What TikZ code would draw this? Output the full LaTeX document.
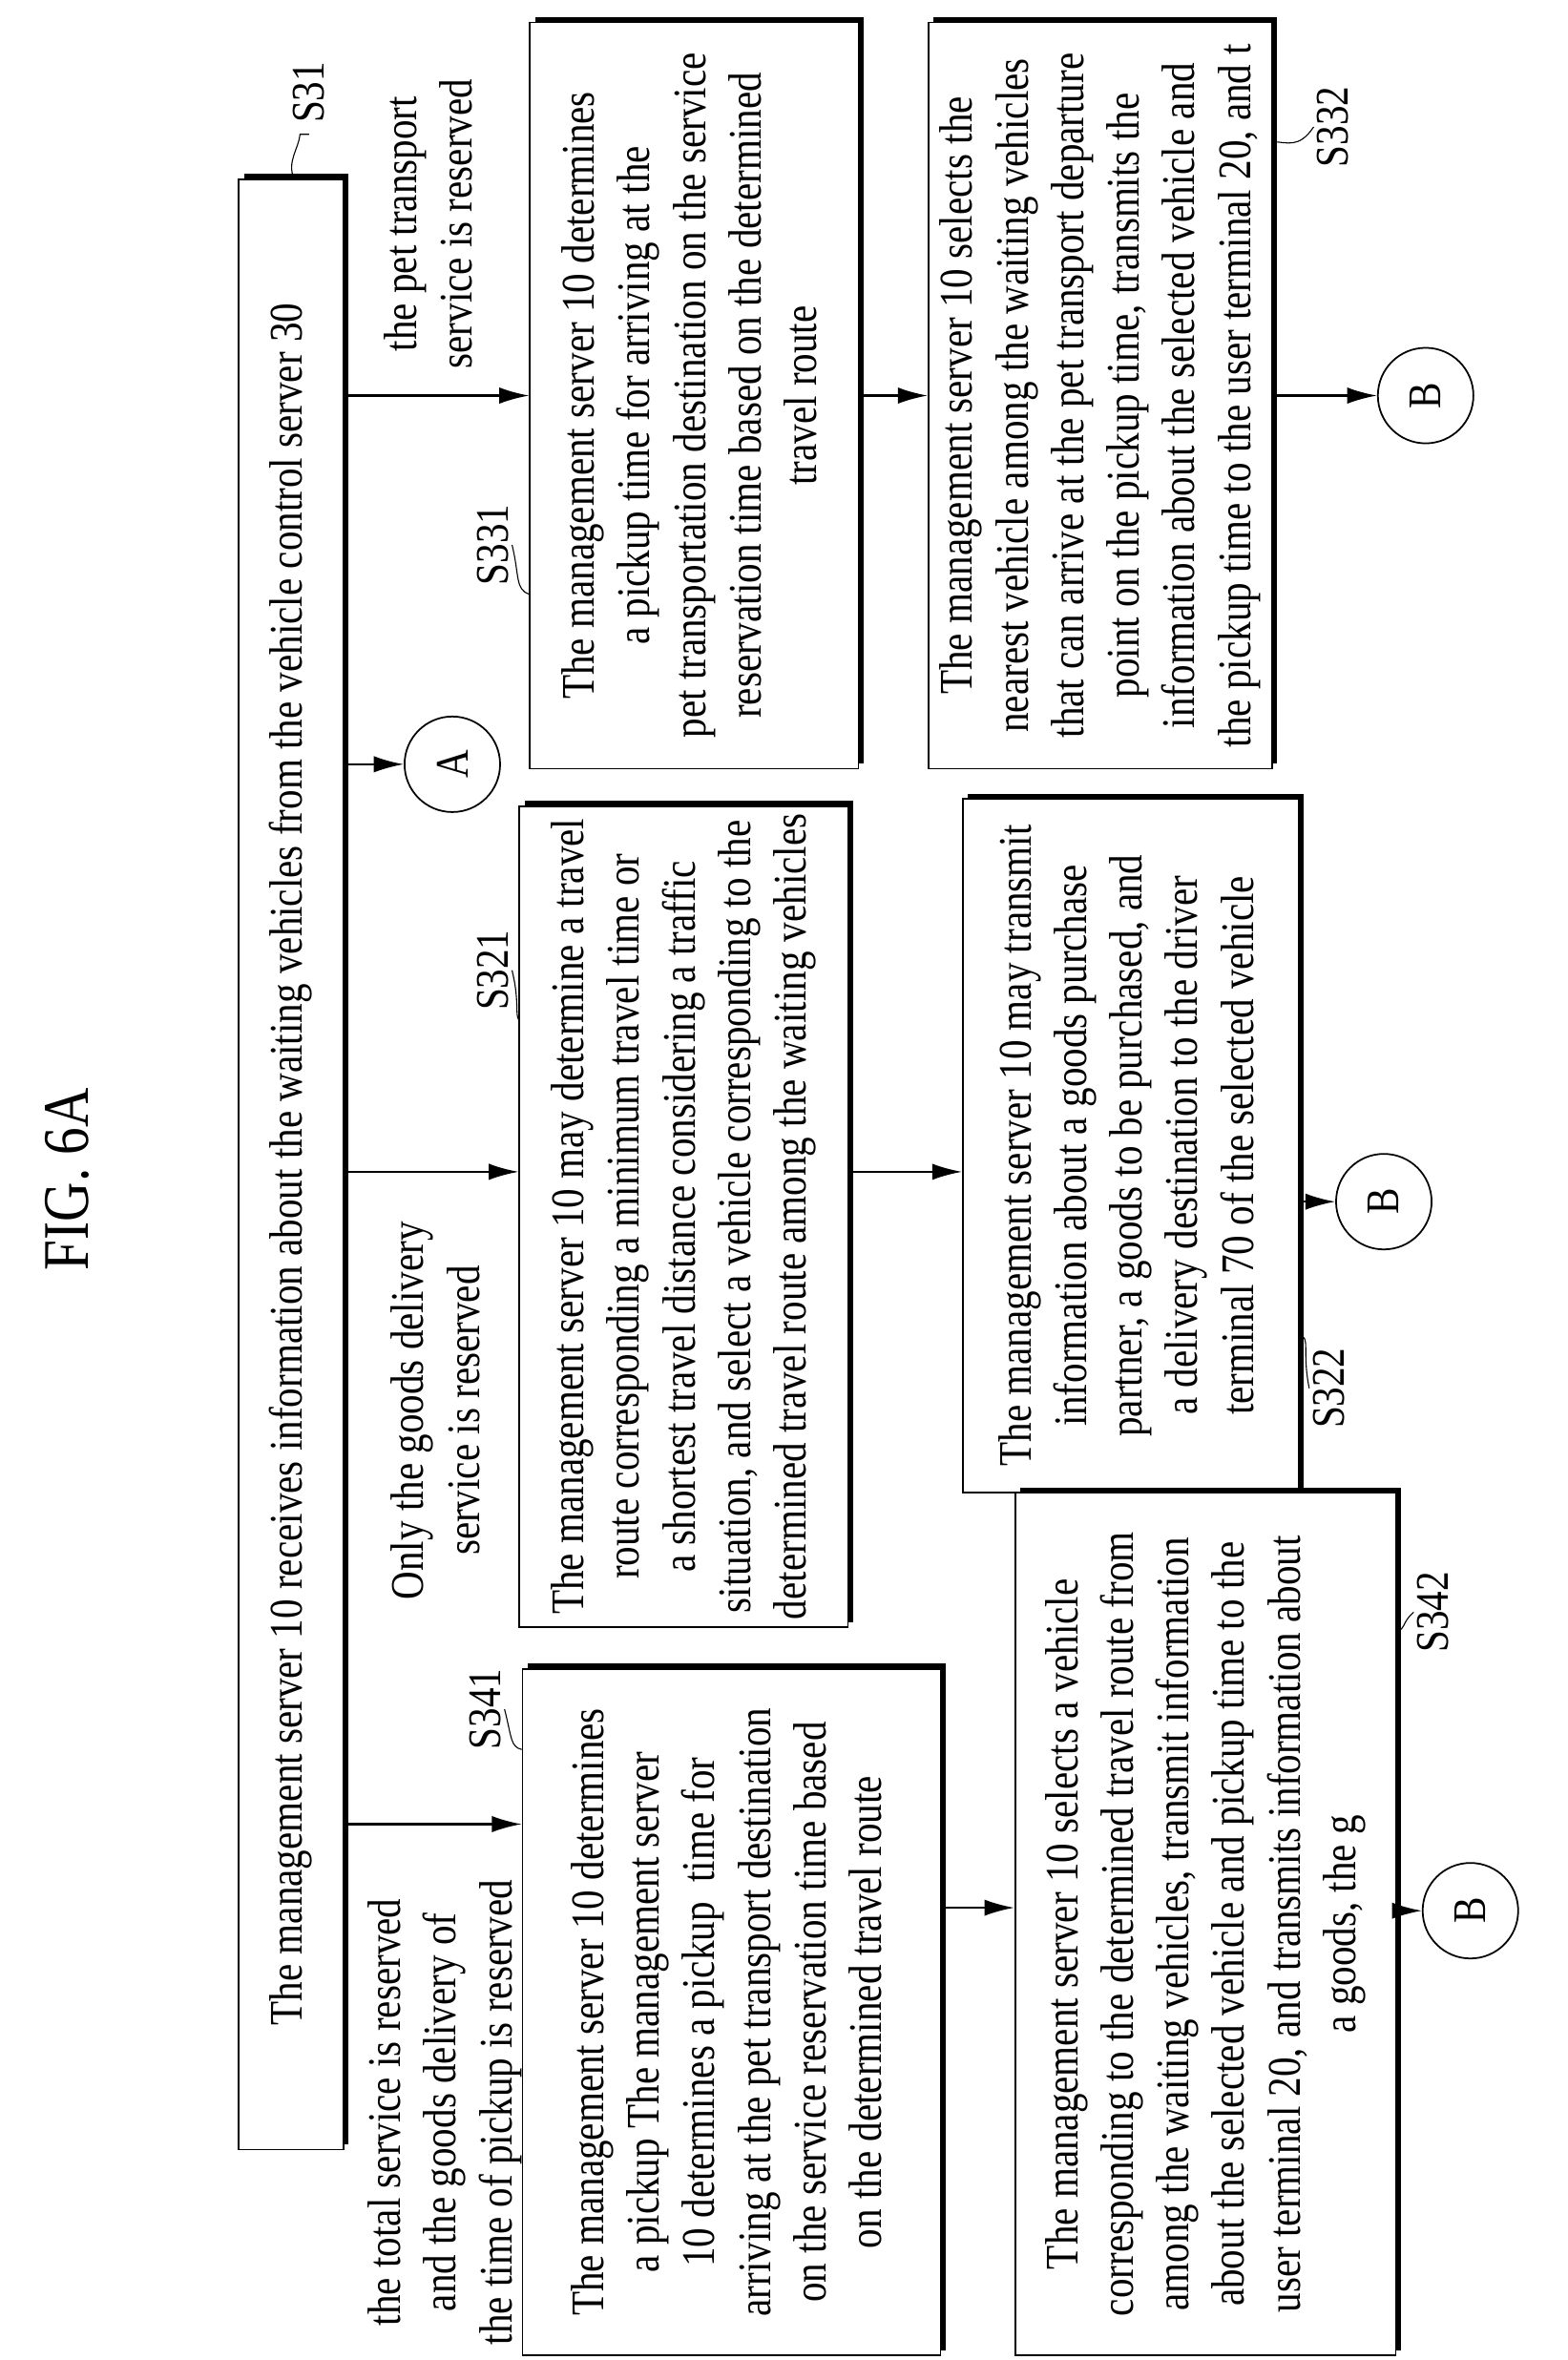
\documentclass[tikz,border=0pt]{standalone}
\usepackage{fontspec}
\setmainfont{Liberation Serif}[FakeStretch=0.84]
\usetikzlibrary{shadows,arrows.meta}
\begin{document}
\begin{tikzpicture}[x=0.05cm,y=-0.05cm,
  box/.style={draw,line width=1.6pt,fill=white,inner sep=0pt,
    general shadow={fill=black,shadow xshift=0.17cm,shadow yshift=0.17cm}},
  txt/.style={font=\fontsize{44.5}{53}\selectfont},
  circ/.style={draw,line width=1.6pt,circle,minimum size=3.2cm,inner sep=0pt,fill=white},
  arr/.style={line width=2pt,-{Latex[length=1cm,width=0.55cm]}},
  lead/.style={line width=1pt}]
\useasboundingbox (0,0) rectangle (1050,1581);
\newcommand{\rt}[1]{\rotatebox{90}{\begin{tabular}{@{}c@{}}#1\end{tabular}}}
\node[font=\fontsize{62}{70}\selectfont] (fig) at (45,790) {\rotatebox{90}{FIG. 6A}};
\node[box,txt,minimum width=3.5cm,minimum height=66cm] (s31) at (195,780)
  {\rt{The management server 10 receives information about the waiting vehicles from the vehicle control server 30}};
\node[txt] (l31) at (207,62) {\rotatebox{90}{S31}};
\draw[lead] (197,120) .. controls (192,108) and (200,100) .. (201,90) -- (207,90);
\node[box,txt,minimum width=11cm,minimum height=25cm] (s331) at (465,265)
  {\rt{The management server 10 determines\\a pickup time for arriving at the\\pet transportation destination on the service\\reservation time based on the determined\\travel route}};
\node[box,txt,minimum width=11.5cm,minimum height=25cm] (s332) at (737,265)
  {\rt{The management server 10 selects the\\nearest vehicle among the waiting vehicles\\that can arrive at the pet transport departure\\point on the pickup time, transmits the\\information about the selected vehicle and\\the pickup time to the user terminal 20, and t}};
\node[box,txt,minimum width=11cm,minimum height=27.5cm] (s321) at (458,815)
  {\rt{The management server 10 may determine a travel\\route corresponding a minimum travel time or\\a shortest travel distance considering a traffic\\situation, and select a vehicle corresponding to the\\determined travel route among the waiting vehicles}};
\node[box,txt,minimum width=11.25cm,minimum height=23.25cm] (s322) at (757.5,767.5)
  {\rt{The management server 10 may transmit\\information about a goods purchase\\partner, a goods to be purchased, and\\a delivery destination to the driver\\terminal 70 of the selected vehicle}};
\node[box,txt,minimum width=14cm,minimum height=23cm] (s341) at (490,1348)
  {\rt{The management server 10 determines\\a pickup The management server\\10 determines a pickup\ \ time for\\arriving at the pet transport destination\\on the service reservation time based\\on the determined travel route}};
\node[box,txt,minimum width=12.75cm,minimum height=28.9cm] (s342) at (807.5,1289)
  {\rt{The management server 10 selects a vehicle\\corresponding to the determined travel route from\\among the waiting vehicles, transmit information\\about the selected vehicle and pickup time to the\\user terminal 20, and transmits information about\\a goods, the g}};
\node[circ,txt] (a) at (303,512) {\rotatebox{90}{A}};
\node[circ,txt] (b1) at (955,265) {\rotatebox{90}{B}};
\node[circ,txt] (b2) at (927,805) {\rotatebox{90}{B}};
\node[circ,txt] (b3) at (985,1280) {\rotatebox{90}{B}};
\node[txt] (c1) at (290,150) {\rt{the pet transport\\service is reserved}};
\node[txt] (c2) at (295,945) {\rt{Only the goods delivery\\service is reserved}};
\node[txt] (c3) at (298,1415) {\rt{the total service is reserved\\and the goods delivery of\\the time of pickup is reserved}};
\node[txt] (l331) at (330,365) {\rotatebox{90}{S331}};
\node[txt] (l321) at (330,650) {\rotatebox{90}{S321}};
\node[txt] (l341) at (325,1145) {\rotatebox{90}{S341}};
\node[txt] (l322) at (890,930) {\rotatebox{90}{S322}};
\node[txt] (l332) at (893,85) {\rotatebox{90}{S332}};
\node[txt] (l342) at (960,1080) {\rotatebox{90}{S342}};
\draw[lead] (l331.east) .. controls (348,385) and (345,395) .. (s331.west |- 0,398);
\draw[lead] (l321.east) .. controls (348,670) and (345,680) .. (s321.west |- 0,683);
\draw[lead] (l341.east) .. controls (343,1165) and (342,1170) .. (s341.west |- 0,1172);
\draw[lead] (s322.east |- 0,895) .. controls (878,895) and (872,905) .. (l322.west);
\draw[lead] (s332.east |- 0,95) .. controls (862,95) and (870,100) .. (l332.west);
\draw[lead] (s342.east |- 0,1092) .. controls (942,1092) and (938,1088) .. (l342.west);
\coordinate (r1) at (0,265);
\coordinate (r2) at (0,785);
\coordinate (r3) at (0,1222);
\coordinate (r4) at (0,1278);
\draw[arr] (s31.east |- r1) -- (s331.west |- r1);
\draw[arr] (s331.east |- r1) -- (s332.west |- r1);
\draw[arr] (s332.east |- r1) -- (b1);
\draw[arr] (s31.east |- a) -- (a);
\draw[arr] (s31.east |- r2) -- (s321.west |- r2);
\draw[arr] (s321.east |- r2) -- (s322.west |- r2);
\draw[arr] (s322.east |- b2) -- (b2);
\draw[arr] (s31.east |- r3) -- (s341.west |- r3);
\draw[arr] (s341.east |- r4) -- (s342.west |- r4);
\draw[arr] (s342.east |- b3) -- (b3);
\end{tikzpicture}
\end{document}
